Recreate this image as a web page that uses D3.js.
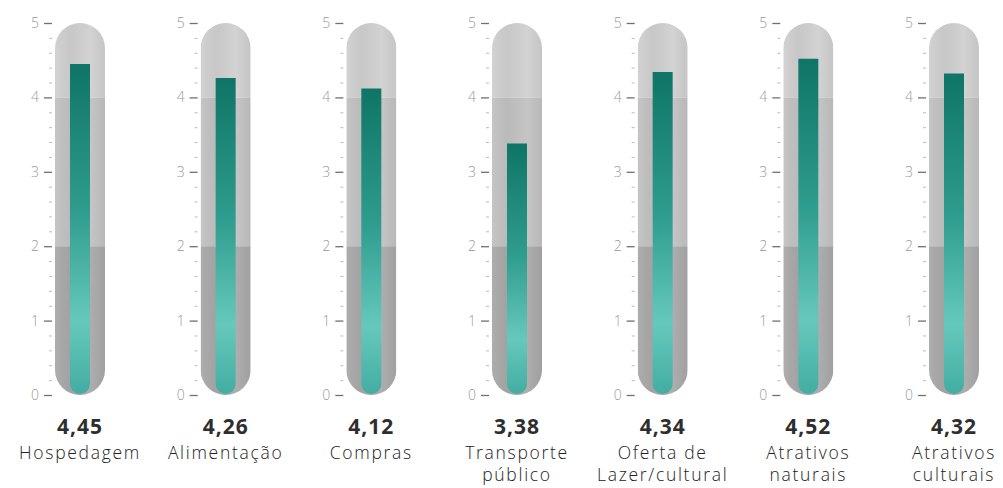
<!DOCTYPE html>
<html>
<head>
<meta charset="utf-8">
<script src="https://cdn.jsdelivr.net/npm/d3@7"></script>
<style>
  body { margin: 0; background: #fff; }
  .tick text { font-family: "Open Sans", sans-serif; font-weight: 300; fill: #9a9a9a; font-size: 14px; }
  .major line { stroke: #707070; stroke-width: 1.3; }
  .minor line { stroke: #bbb; }
  .value { font-family: "Open Sans", sans-serif; font-weight: 700; font-size: 21px; fill: #2e2e2e; letter-spacing: 1px; }
  .label { font-family: "Open Sans", sans-serif; font-weight: 300; font-size: 17.5px; fill: #222; letter-spacing: 1.7px; }
</style>
</head>
<body>
<div id="chart"></div>
<script>
// data
var categories = ["Hospedagem", "Alimentação", "Compras", "Transporte público",
  "Oferta de Lazer/cultural", "Atrativos naturais", "Atrativos culturais"];
var labelLines = [["Hospedagem"], ["Alimentação"], ["Compras"], ["Transporte", "público"],
  ["Oferta de", "Lazer/cultural"], ["Atrativos", "naturais"], ["Atrativos", "culturais"]];
var scores = [4.45, 4.26, 4.12, 3.38, 4.34, 4.52, 4.32];
var majorTicks = [0, 1, 2, 3, 4, 5];
var minorTicks = d3.range(0, 5.01, 0.2);
// background bands of the tube
var bandStarts = [0, 2, 4];
var bandEnds = [2, 4, 5];
var bandColors = ["#a9a9a9", "#c2c2c2", "#d0d0d0"];

var svgWidth = 1003;
var svgHeight = 488;
var tubeWidth = 50;
var barWidth = 20;

var svg = d3.select("#chart")
  .append("svg")
  .attr("width", svgWidth)
  .attr("height", svgHeight);

var defs = svg.append("defs");

var grad = defs.append("linearGradient")
  .attr("id", "barGrad")
  .attr("x1", 0).attr("y1", 0).attr("x2", 0).attr("y2", 1);
grad.append("stop").attr("offset", 0).attr("stop-color", "#0f7566");
grad.append("stop").attr("offset", 0.45).attr("stop-color", "#2f9d8f");
grad.append("stop").attr("offset", 0.78).attr("stop-color", "#66c8bd");
grad.append("stop").attr("offset", 1).attr("stop-color", "#43ada1");

var shade = defs.append("linearGradient")
  .attr("id", "tubeShade")
  .attr("x1", 0).attr("y1", 0).attr("x2", 1).attr("y2", 0);
shade.append("stop").attr("offset", 0).attr("stop-color", "#fff").attr("stop-opacity", 0.05);
shade.append("stop").attr("offset", 0.3).attr("stop-color", "#000").attr("stop-opacity", 0.04);
shade.append("stop").attr("offset", 0.7).attr("stop-color", "#fff").attr("stop-opacity", 0.06);
shade.append("stop").attr("offset", 1).attr("stop-color", "#000").attr("stop-opacity", 0.05);

// scales
var x = d3.scalePoint()
  .domain(categories)
  .range([80, 954]);

var y = d3.scaleLinear()
  .domain([0, 5])
  .range([395, 23]);

var r = tubeWidth / 2;

categories.forEach(function(cat, i) {
  var cx = x(cat);
  var g = svg.append("g");

  // clip tube shape
  var clipId = "clip" + i;
  defs.append("clipPath").attr("id", clipId)
    .append("rect")
    .attr("x", cx - r)
    .attr("y", y(5))
    .attr("width", tubeWidth)
    .attr("height", y(0) - y(5))
    .attr("rx", r);

  var tube = g.append("g").attr("clip-path", "url(#" + clipId + ")");

  bandStarts.forEach(function(b, j) {
    tube.append("rect")
      .attr("x", cx - r)
      .attr("y", y(bandEnds[j]))
      .attr("width", tubeWidth)
      .attr("height", y(b) - y(bandEnds[j]))
      .attr("fill", bandColors[j]);
  });

  tube.append("rect")
    .attr("x", cx - r)
    .attr("y", y(5))
    .attr("width", tubeWidth)
    .attr("height", y(0) - y(5))
    .attr("fill", "url(#tubeShade)");

  // inner bar, rounded at bottom
  var bx = cx - barWidth / 2;
  var top = y(scores[i]);
  var bottom = y(0) - 1;
  var br = barWidth / 2;
  var path = d3.path();
  path.moveTo(bx, top);
  path.lineTo(bx + barWidth, top);
  path.lineTo(bx + barWidth, bottom - br);
  path.arc(cx, bottom - br, br, 0, Math.PI, false);
  path.closePath();
  tube.append("path")
    .attr("d", path.toString())
    .attr("fill", "url(#barGrad)");

  // axes
  var ax = cx - r - 3;
  g.append("g")
    .attr("class", "major")
    .attr("transform", "translate(" + ax + ",0)")
    .call(d3.axisLeft(y).tickValues(majorTicks).tickSize(8).tickPadding(5).tickFormat(d3.format("d")))
    .call(function(s) { s.select(".domain").remove(); });

  g.append("g")
    .attr("class", "minor")
    .attr("transform", "translate(" + ax + ",0)")
    .call(d3.axisLeft(y).tickValues(minorTicks.filter(function(v) { return Math.abs(v - Math.round(v)) > 0.01; }))
      .tickSize(3).tickFormat(""))
    .call(function(s) { s.select(".domain").remove(); });

  // value and label
  g.append("text")
    .attr("class", "value")
    .attr("x", cx)
    .attr("y", 434)
    .attr("text-anchor", "middle")
    .text(d3.format(".2f")(scores[i]).replace(".", ","));

  var label = g.append("text")
    .attr("class", "label")
    .attr("x", cx)
    .attr("y", 459)
    .attr("text-anchor", "middle");
  labelLines[i].forEach(function(line, k) {
    label.append("tspan")
      .attr("x", cx)
      .attr("dy", k === 0 ? 0 : 22)
      .text(line);
  });
});
</script>
</body>
</html>
